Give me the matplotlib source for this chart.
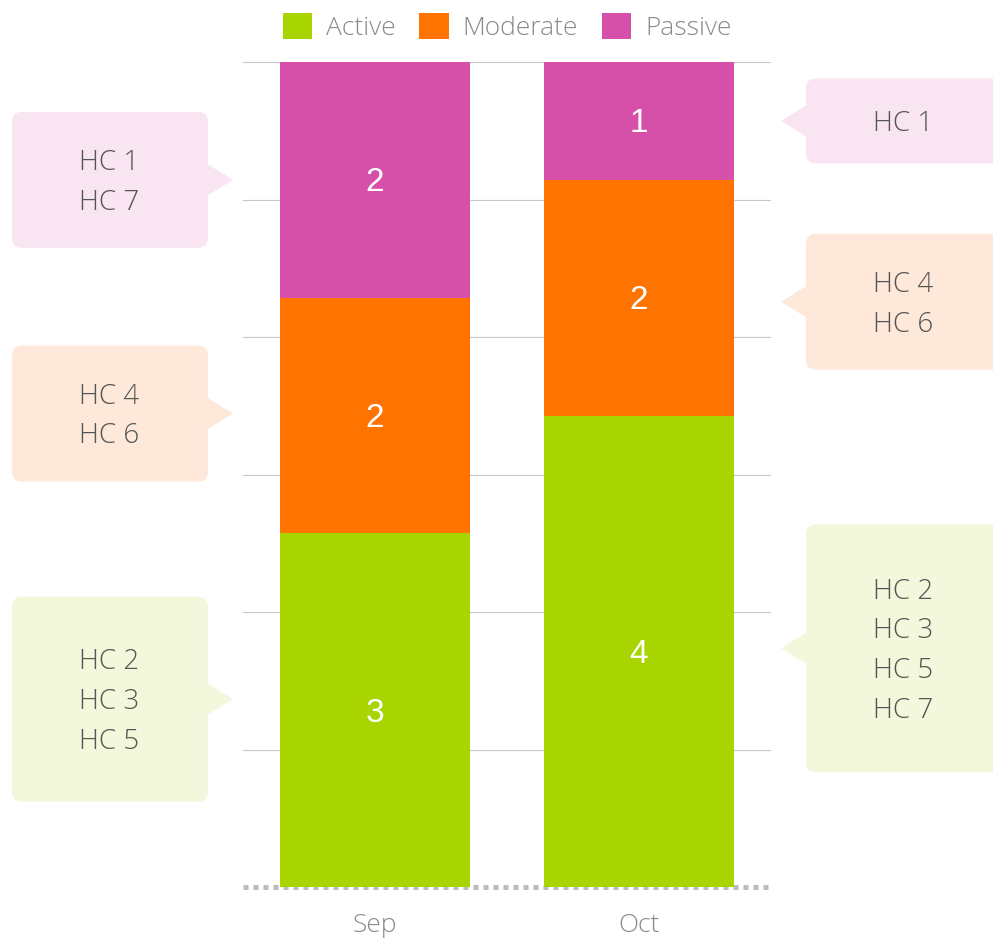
import numpy as np
import matplotlib
matplotlib.use("Agg")
import matplotlib.pyplot as plt
from matplotlib.patches import FancyBboxPatch, Polygon

# ---- data ----
months = ["Sep", "Oct"]
series_names = ["Active", "Moderate", "Passive"]
active = [3, 4]
moderate = [2, 2]
passive = [2, 1]
active_members = [["HC 2", "HC 3", "HC 5"], ["HC 2", "HC 3", "HC 5", "HC 7"]]
moderate_members = [["HC 4", "HC 6"], ["HC 4", "HC 6"]]
passive_members = [["HC 1", "HC 7"], ["HC 1"]]

# ---- style ----
bar_colors = ["#a8d400", "#ff7300", "#d64fa9"]
bubble_colors = ["#f3f7dc", "#fee8da", "#f9e4f1"]
bubble_heights = {1: 85, 2: 136, 3: 205, 4: 248}
bubble_dy = {(0, 0): 11, (0, 1): 2, (1, 1): -4, (1, 0): 3}  # pixel shift (up positive)
W, H = 993, 942
DPI = 100
FONT = "Open Sans"

fig = plt.figure(figsize=(W / DPI, H / DPI), dpi=DPI)
ax = fig.add_axes([243 / W, 1 - 887 / H, 528 / W, 825 / H])

x = np.arange(len(months))
bw = 0.72
series = [active, moderate, passive]
members = [active_members, moderate_members, passive_members]
bottoms = np.zeros(len(months))
bars = []
for vals, col, name in zip(series, bar_colors, series_names):
    b = ax.bar(x, vals, bw, bottom=bottoms, color=col, label=name, zorder=3, linewidth=0)
    bars.append(b)
    for xi, v, bt in zip(x, vals, bottoms):
        ax.annotate(str(v), (xi, bt + v / 2), xytext=(0, -3), textcoords="offset pixels",
                    ha="center", va="center", color="white",
                    fontsize=24, family="Liberation Sans", zorder=4)
    bottoms = bottoms + np.array(vals)

total = max(bottoms)
ax.set_xlim(-0.5, len(months) - 0.5)
ax.set_ylim(0, total)
for gy in np.linspace(0, total, 7)[1:]:
    ax.axhline(gy, color="#c8c8c8", lw=0.8, zorder=1)
ax.axhline(0, color="#bdbdbd", lw=3.6, linestyle=(0, (1, 1)), zorder=2,
           dash_capstyle="butt", clip_on=False)
for s in ax.spines.values():
    s.set_visible(False)
ax.set_yticks([])
ax.set_xticks(x)
ax.set_xticklabels(months, fontsize=19, color="#8a8a8a", family=FONT, fontweight="light")
ax.tick_params(axis="x", length=0, pad=19)

leg = ax.legend(loc="center", bbox_to_anchor=(507 / W, 1 - 27 / H), bbox_transform=fig.transFigure,
                ncol=3, frameon=False, handlelength=1.12, handleheight=1.15,
                handletextpad=0.52, columnspacing=0.9, borderpad=0,
                prop={"family": FONT, "size": 19, "weight": "light"})
for t in leg.get_texts():
    t.set_color("#8a8a8a")

# ---- callout bubbles in pixel coordinates ----
ov = fig.add_axes([0, 0, 1, 1], zorder=-1)
ov.set_xlim(0, W)
ov.set_ylim(0, H)
ov.axis("off")

bubble_w = 196
gap = 72
ptr_half = 16
ptr_depth = 25
bottoms = np.zeros(len(months))
for si, (vals, mem) in enumerate(zip(series, members)):
    for mi in range(len(months)):
        mid = bottoms[mi] + vals[mi] / 2
        side = -1 if mi == 0 else 1
        edge_x = x[mi] + side * bw / 2
        px, py = ax.transData.transform((edge_x, mid))
        py += bubble_dy.get((mi, si), 0)
        lines = mem[mi]
        bh = bubble_heights[len(lines)]
        if side < 0:
            bx1 = px - gap
            bx0 = bx1 - bubble_w
            tri = [(bx1 - 1, py + ptr_half), (bx1 + ptr_depth, py), (bx1 - 1, py - ptr_half)]
        else:
            bx0 = px + gap
            bx1 = bx0 + bubble_w
            tri = [(bx0 + 1, py + ptr_half), (bx0 - ptr_depth, py), (bx0 + 1, py - ptr_half)]
        col = bubble_colors[si]
        ov.add_patch(FancyBboxPatch((bx0, py - bh / 2), bubble_w, bh,
                                    boxstyle="round,pad=0,rounding_size=10",
                                    fc=col, ec="none"))
        ov.add_patch(Polygon(tri, closed=True, fc=col, ec="none"))
        ov.text((bx0 + bx1) / 2 - 1, py - 3, "\n".join(lines), ha="center", va="center",
                fontsize=20, color="#555555", family=FONT, fontweight="light",
                linespacing=1.56)
    bottoms = bottoms + np.array(vals)

fig.savefig("out.png", dpi=DPI)
